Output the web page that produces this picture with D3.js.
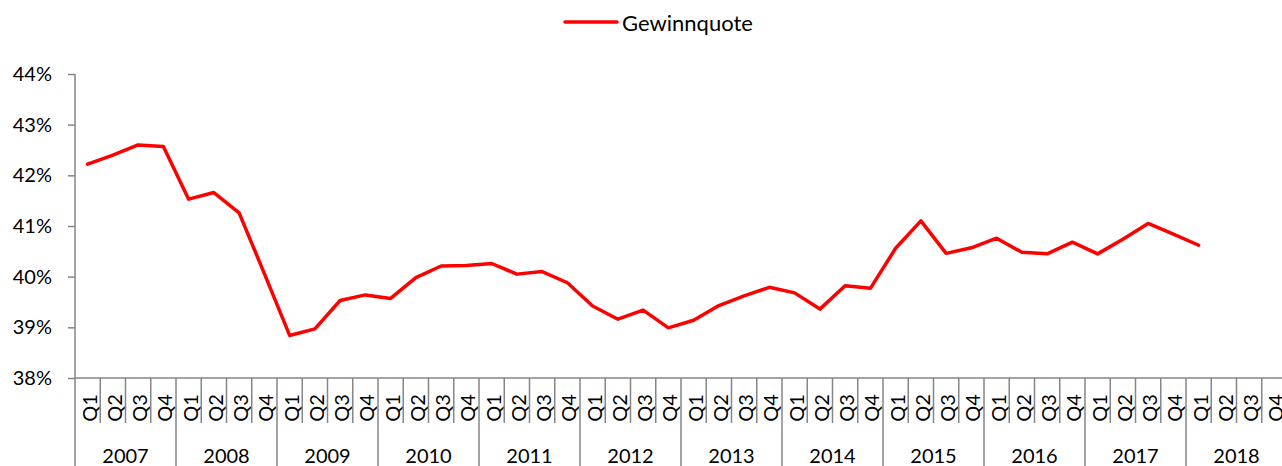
<!DOCTYPE html>
<html>
<head>
<meta charset="utf-8">
<script src="https://cdn.jsdelivr.net/npm/d3@7"></script>
<style>
  html, body { margin: 0; padding: 0; background: #fff; overflow: hidden; }
  svg { display: block; font-family: Lato, "Open Sans", sans-serif; }
</style>
</head>
<body>
<svg id="chart" width="1282" height="466"></svg>
<script>
const years = [2007, 2008, 2009, 2010, 2011, 2012, 2013, 2014, 2015, 2016, 2017, 2018];
const quarters = ["Q1", "Q2", "Q3", "Q4"];
const seriesName = "Gewinnquote";
const gewinnquote = [
  42.22, 42.40, 42.60, 42.57,
  41.53, 41.66, 41.26, 40.06,
  38.84, 38.97, 39.53, 39.64,
  39.57, 39.98, 40.21, 40.22,
  40.26, 40.05, 40.10, 39.88,
  39.42, 39.16, 39.34, 38.99,
  39.14, 39.43, 39.62, 39.79,
  39.68, 39.36, 39.82, 39.77,
  40.56, 41.10, 40.46, 40.57,
  40.76, 40.48, 40.45, 40.68,
  40.45, 40.74, 41.05, 40.84,
  40.62
];
const yTicks = [38, 39, 40, 41, 42, 43, 44];

(function () {
const categories = [];
years.forEach(yr => quarters.forEach(q => categories.push(yr + "-" + q)));

const svg = d3.select("#chart");
const axisColor = "#868686";
const mLeft = 75, mRight = 1287, mTop = 74, mBottom = 378;

const x = d3.scaleBand().domain(categories).range([mLeft, mRight]).paddingInner(0).paddingOuter(0);
const y = d3.scaleLinear().domain([38, 44]).range([mBottom, mTop]);

// Y axis
const yAxis = d3.axisLeft(y).tickValues(yTicks).tickSize(7).tickPadding(16).tickFormat(d => d + "%");
const gy = svg.append("g").attr("transform", `translate(${mLeft},0)`).call(yAxis);
gy.select(".domain").remove();
gy.selectAll(".tick line").attr("stroke", axisColor).attr("stroke-width", 1.5);
gy.selectAll(".tick text").attr("fill", "#000").style("font-size", "20px").style("font-family", "Lato, sans-serif");

// axis lines
svg.append("line").attr("x1", mLeft).attr("x2", mLeft).attr("y1", mTop).attr("y2", 466)
  .attr("stroke", axisColor).attr("stroke-width", 1.5);
svg.append("line").attr("x1", mLeft).attr("x2", 1282).attr("y1", mBottom).attr("y2", mBottom)
  .attr("stroke", axisColor).attr("stroke-width", 1.5);

// Quarter separators and labels
const bw = x.bandwidth();
categories.forEach((c, i) => {
  const x0 = x(c);
  const isYear = i % 4 === 0;
  if (i > 0) {
    svg.append("line").attr("x1", x0).attr("x2", x0).attr("y1", mBottom)
      .attr("y2", isYear ? 466 : 423)
      .attr("stroke", axisColor).attr("stroke-width", 1.5);
  }
  const cx = x0 + bw / 2;
  svg.append("text")
    .attr("transform", `translate(${cx + 1},408) rotate(-90)`)
    .attr("text-anchor", "middle")
    .attr("dominant-baseline", "central")
    .style("font-size", "20px")
    .attr("fill", "#000")
    .text(c.split("-")[1]);
});

// Year labels
years.forEach(yr => {
  const x0 = x(yr + "-Q1");
  const x1 = x(yr + "-Q4") + bw;
  svg.append("text")
    .attr("x", (x0 + x1) / 2)
    .attr("y", 455)
    .attr("text-anchor", "middle")
    .attr("dominant-baseline", "central")
    .style("font-size", "20px")
    .attr("fill", "#000")
    .text(yr);
});

// Line
const line = d3.line()
  .x((d, i) => x(categories[i]) + bw / 2)
  .y(d => y(d));
svg.append("path")
  .datum(gewinnquote)
  .attr("d", line)
  .attr("fill", "none")
  .attr("stroke", "#FF0000")
  .attr("stroke-width", 3.5)
  .attr("stroke-linejoin", "round")
  .attr("stroke-linecap", "round");

// Legend
const lg = svg.append("g");
lg.append("line").attr("x1", 565).attr("x2", 617).attr("y1", 22).attr("y2", 22)
  .attr("stroke", "#FF0000").attr("stroke-width", 3.5).attr("stroke-linecap", "round");
lg.append("text").attr("x", 622).attr("y", 22)
  .attr("dominant-baseline", "central")
  .style("font-size", "22px")
  .attr("fill", "#000")
  .text(seriesName);
})();
</script>
</body>
</html>
